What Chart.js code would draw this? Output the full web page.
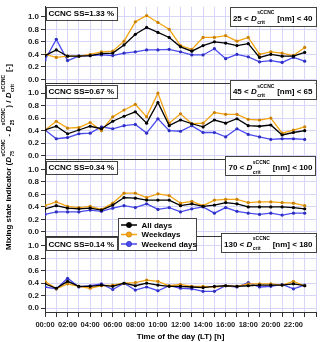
<!DOCTYPE html>
<html>
<head>
<meta charset="utf-8">
<script src="https://cdn.jsdelivr.net/npm/chart.js@4.4.1/dist/chart.umd.min.js"></script>
<style>
  html, body { margin: 0; padding: 0; background: #fff; }
  #wrap { width: 320px; height: 342px; position: relative; }
</style>
</head>
<body>
<div id="wrap"><canvas id="chart" width="320" height="342"></canvas></div>
<script>
// hour of day (LT)
const hours = [0, 1, 2, 3, 4, 5, 6, 7, 8, 9, 10, 11, 12, 13, 14, 15, 16, 17, 18, 19, 20, 21, 22, 23];
const timeLabels = ['00:00', '02:00', '04:00', '06:00', '08:00', '10:00', '12:00', '14:00', '16:00', '18:00', '20:00', '22:00'];
const yTicks = [0, 0.2, 0.4, 0.6, 0.8, 1.0];

// CCNC SS = 1.33 %
const all133 = [0.38, 0.47, 0.37, 0.37, 0.38, 0.41, 0.42, 0.55, 0.72, 0.83, 0.75, 0.67, 0.52, 0.45, 0.54, 0.60, 0.58, 0.54, 0.57, 0.35, 0.40, 0.37, 0.37, 0.43];
const wkd133 = [0.40, 0.35, 0.37, 0.37, 0.40, 0.44, 0.45, 0.61, 0.92, 1.02, 0.91, 0.80, 0.54, 0.48, 0.67, 0.67, 0.70, 0.61, 0.67, 0.40, 0.44, 0.42, 0.38, 0.51];
const wke133 = [0.31, 0.64, 0.30, 0.37, 0.38, 0.39, 0.38, 0.42, 0.44, 0.47, 0.47, 0.48, 0.44, 0.39, 0.39, 0.49, 0.33, 0.40, 0.36, 0.28, 0.30, 0.27, 0.35, 0.29];
// CCNC SS = 0.67 %
const all067 = [0.41, 0.47, 0.35, 0.41, 0.47, 0.43, 0.55, 0.63, 0.70, 0.52, 0.85, 0.48, 0.57, 0.51, 0.46, 0.57, 0.52, 0.59, 0.48, 0.47, 0.49, 0.33, 0.37, 0.40];
const wkd067 = [0.41, 0.55, 0.44, 0.45, 0.53, 0.40, 0.62, 0.73, 0.82, 0.62, 1.00, 0.52, 0.67, 0.51, 0.52, 0.69, 0.66, 0.66, 0.58, 0.57, 0.60, 0.36, 0.41, 0.46];
const wke067 = [0.41, 0.27, 0.29, 0.35, 0.36, 0.46, 0.43, 0.48, 0.50, 0.36, 0.59, 0.40, 0.39, 0.48, 0.37, 0.37, 0.30, 0.43, 0.34, 0.30, 0.26, 0.27, 0.27, 0.26];
// CCNC SS = 0.34 %
const all034 = [0.37, 0.42, 0.38, 0.37, 0.38, 0.35, 0.43, 0.55, 0.54, 0.51, 0.51, 0.51, 0.42, 0.45, 0.41, 0.43, 0.47, 0.45, 0.40, 0.40, 0.40, 0.40, 0.39, 0.37];
const wkd034 = [0.42, 0.48, 0.41, 0.39, 0.41, 0.36, 0.46, 0.62, 0.62, 0.55, 0.61, 0.58, 0.46, 0.49, 0.42, 0.51, 0.52, 0.52, 0.47, 0.48, 0.48, 0.47, 0.46, 0.42];
const wke034 = [0.28, 0.32, 0.32, 0.32, 0.35, 0.33, 0.38, 0.42, 0.39, 0.45, 0.36, 0.39, 0.32, 0.37, 0.40, 0.30, 0.39, 0.33, 0.30, 0.28, 0.30, 0.27, 0.30, 0.30];
// CCNC SS = 0.14 %
const all014 = [0.39, 0.32, 0.43, 0.35, 0.35, 0.37, 0.35, 0.40, 0.36, 0.40, 0.37, 0.35, 0.35, 0.34, 0.33, 0.35, 0.36, 0.35, 0.36, 0.37, 0.37, 0.37, 0.39, 0.36];
const wkd014 = [0.43, 0.31, 0.39, 0.35, 0.32, 0.36, 0.37, 0.40, 0.41, 0.45, 0.43, 0.36, 0.38, 0.35, 0.35, 0.34, 0.36, 0.35, 0.39, 0.39, 0.39, 0.37, 0.43, 0.36];
const wke014 = [0.34, 0.31, 0.48, 0.34, 0.36, 0.39, 0.30, 0.40, 0.29, 0.34, 0.28, 0.36, 0.32, 0.31, 0.27, 0.27, 0.36, 0.34, 0.41, 0.34, 0.35, 0.38, 0.31, 0.37];

const ssLabels = ['1.33', '0.67', '0.34', '0.14'];
const sizeLow = ['25', '45', '70', '130'];
const sizeHigh = ['40', '65', '100', '180'];

const FONT = '"Liberation Sans", Arial, sans-serif';
const F = (style, size) => `${style} ${size}px ${FONT}`;
const GRID = '#d6d6fa';
const AXIS = '#333';

const panels = [
  { axis: 'y1', all: all133, wkd: wkd133, wke: wke133 },
  { axis: 'y2', all: all067, wkd: wkd067, wke: wke067 },
  { axis: 'y3', all: all034, wkd: wkd034, wke: wke034 },
  { axis: 'y4', all: all014, wkd: wkd014, wke: wke014 }
];
const series = [
  { label: 'All days', key: 'all', color: '#000000', dot: '#000000' },
  { label: 'Weekdays', key: 'wkd', color: '#f5a511', dot: '#c98000' },
  { label: 'Weekend days', key: 'wke', color: '#4b4bf0', dot: '#2e2ec2' }
];

const datasets = [];
panels.forEach(p => {
  series.forEach(s => {
    datasets.push({
      label: s.label,
      yAxisID: p.axis,
      data: hours.map((h, i) => ({ x: h, y: p[s.key][i] })),
      borderColor: s.color,
      borderWidth: 1.3,
      pointRadius: 1.6,
      pointBackgroundColor: s.dot,
      pointBorderWidth: 0,
      tension: 0
    });
  });
});

function yAxis() {
  return {
    type: 'linear',
    position: 'left',
    stack: 'panels',
    stackWeight: 1,
    min: -0.06,
    max: 1.16,
    afterBuildTicks: s => { s.ticks = yTicks.map(v => ({ value: v })); },
    afterFit: s => { s.width = 45; },
    ticks: {
      autoSkip: false,
      font: { size: 8, weight: 'bold', family: FONT },
      color: '#222',
      padding: 2,
      callback: v => v.toFixed(1)
    },
    grid: { color: GRID, tickColor: AXIS, tickLength: 4, lineWidth: 1 },
    border: { color: AXIS, width: 1 }
  };
}

// rich text: strings, {it:'D'} italic, {sup, sub} stacked scripts
function partWidth(ctx, p, size) {
  if (typeof p === 'string') { ctx.font = F('bold', size); return ctx.measureText(p).width; }
  if (p.it) { ctx.font = F('italic bold', size); return ctx.measureText(p.it).width + 0.6; }
  ctx.font = F('bold', size * 0.62);
  return Math.max(ctx.measureText(p.sup).width, ctx.measureText(p.sub).width) + 0.6;
}
function richWidth(ctx, parts, size) {
  return parts.reduce((w, p) => w + partWidth(ctx, p, size), 0);
}
function drawRich(ctx, parts, x, y, size) {
  ctx.textAlign = 'left';
  ctx.textBaseline = 'alphabetic';
  parts.forEach(p => {
    const w = partWidth(ctx, p, size);
    if (typeof p === 'string') ctx.fillText(p, x, y);
    else if (p.it) ctx.fillText(p.it, x, y);
    else {
      ctx.fillText(p.sup, x, y - size * 0.8);
      ctx.fillText(p.sub, x, y + size * 0.4);
    }
    x += w;
  });
}

function box(ctx, x, y, w, h) {
  ctx.fillStyle = '#fff';
  ctx.fillRect(x, y, w, h);
  ctx.strokeStyle = '#444';
  ctx.lineWidth = 1;
  ctx.strokeRect(Math.round(x) + 0.5, Math.round(y) + 0.5, Math.round(w), Math.round(h));
}

const decor = {
  id: 'decor',
  afterDraw(chart) {
    const { ctx, chartArea } = chart;
    ctx.save();
    panels.forEach((p, i) => {
      const sc = chart.scales[p.axis];
      // panel bottom frame line
      const yb = Math.round(sc.bottom) + 0.5;
      ctx.strokeStyle = AXIS;
      ctx.lineWidth = 1;
      ctx.beginPath();
      ctx.moveTo(chartArea.left, yb);
      ctx.lineTo(chartArea.right, yb);
      ctx.stroke();

      // supersaturation box (top left)
      const ssText = 'CCNC SS=' + ssLabels[i] + ' %';
      ctx.font = F('bold', 8);
      const tw = ctx.measureText(ssText).width;
      const top = i === 0 ? sc.top : sc.top + 1.5;
      box(ctx, chartArea.left + 1, top, tw + 5, 12.5);
      ctx.fillStyle = '#000';
      ctx.textAlign = 'left';
      ctx.textBaseline = 'alphabetic';
      ctx.fillText(ssText, chartArea.left + 3.5, top + 9.5);

      // size range box (top right)
      const parts = [sizeLow[i] + ' < ', { it: 'D' }, { sup: 'sCCNC', sub: 'crit' }, ' [nm] < ' + sizeHigh[i]];
      const rw = richWidth(ctx, parts, 8);
      const rTop = i === 0 ? sc.top : sc.top - 3;
      const rx = chartArea.right - 0.5 - (rw + 6);
      box(ctx, rx, rTop, rw + 6, 19);
      ctx.fillStyle = '#000';
      drawRich(ctx, parts, rx + 3, rTop + 14, 8);
    });

    // legend
    const lx = 118, ly = 218;
    box(ctx, lx, ly, 78, 32);
    series.forEach((s, k) => {
      const cy = ly + 7 + k * 9.5;
      ctx.strokeStyle = s.color;
      ctx.lineWidth = 1.5;
      ctx.beginPath();
      ctx.moveTo(lx + 3, cy);
      ctx.lineTo(lx + 19, cy);
      ctx.stroke();
      ctx.fillStyle = s.color;
      ctx.strokeStyle = s.dot;
      ctx.lineWidth = 0.8;
      ctx.beginPath();
      ctx.arc(lx + 11, cy, 2.6, 0, Math.PI * 2);
      ctx.fill();
      ctx.stroke();
      ctx.fillStyle = '#000';
      ctx.font = F('bold', 8);
      ctx.textAlign = 'left';
      ctx.textBaseline = 'middle';
      ctx.fillText(s.label, lx + 23.5, cy + 0.5);
    });

    // y axis title
    const yt = ['Mixing state indicator (', { it: 'D' }, { sup: 'sCCNC', sub: '75' }, ' - ', { it: 'D' },
      { sup: 'sCCNC', sub: '25' }, ') / ', { it: 'D' }, { sup: 'sCCNC', sub: 'crit' }, ' [-]'];
    const tw = richWidth(ctx, yt, 8);
    ctx.translate(11, 157);
    ctx.rotate(-Math.PI / 2);
    ctx.fillStyle = '#000';
    drawRich(ctx, yt, -tw / 2, 0, 8);
    ctx.restore();
  }
};

new Chart(document.getElementById('chart').getContext('2d'), {
  type: 'line',
  data: { datasets },
  options: {
    responsive: false,
    animation: false,
    devicePixelRatio: 1,
    layout: { padding: { left: 0, right: 3, top: 3, bottom: 0 } },
    plugins: { legend: { display: false }, tooltip: { enabled: false } },
    scales: {
      x: {
        type: 'linear',
        position: 'bottom',
        min: 0,
        max: 24,
        afterBuildTicks: s => { s.ticks = hours.concat([24]).map(v => ({ value: v })); },
        afterFit: s => { s.height = 30; },
        ticks: {
          autoSkip: false,
          maxRotation: 0,
          padding: 3,
          font: { size: 7.5, weight: 'bold', family: FONT },
          color: '#222',
          callback: v => (v % 2 === 0 && timeLabels[v / 2]) ? timeLabels[v / 2] : ''
        },
        grid: { color: GRID, tickColor: AXIS, tickLength: 5, lineWidth: 1 },
        border: { color: AXIS, width: 1 },
        title: {
          display: true,
          text: 'Time of the day (LT) [h]',
          font: { size: 8, weight: 'bold', family: FONT },
          color: '#000',
          padding: { top: 0, bottom: 0 }
        }
      },
      y4: yAxis(),
      y3: yAxis(),
      y2: yAxis(),
      y1: yAxis()
    }
  },
  plugins: [decor]
});
</script>
</body>
</html>
